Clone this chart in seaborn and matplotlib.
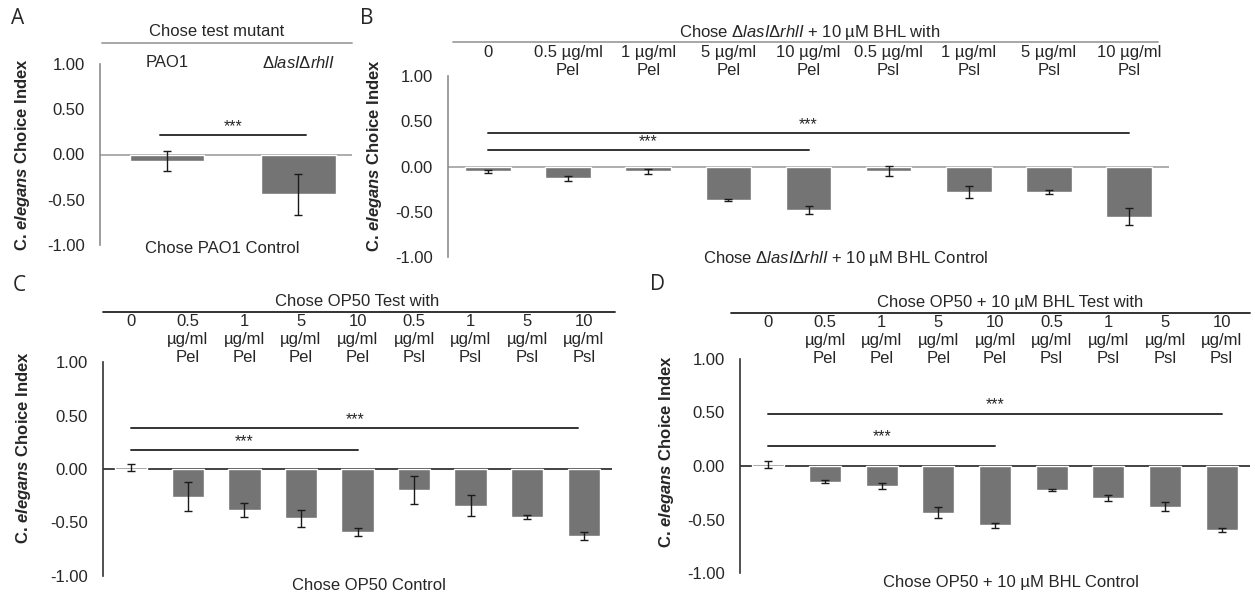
import matplotlib
matplotlib.use("Agg")
import matplotlib.pyplot as plt
import matplotlib.transforms as mtransforms
from matplotlib.lines import Line2D
import seaborn as sns

# Data (choice index means and error bars)
a_labels = ["PAO1", r"Δ$\mathit{lasI}$Δ$\mathit{rhlI}$"]
a_means = [-0.07, -0.44]
a_errs = [0.11, 0.23]

b_labels = ["0", "0.5 µg/ml\nPel", "1 µg/ml\nPel", "5 µg/ml\nPel", "10 µg/ml\nPel",
            "0.5 µg/ml\nPsl", "1 µg/ml\nPsl", "5 µg/ml\nPsl", "10 µg/ml\nPsl"]
b_means = [-0.055, -0.13, -0.055, -0.37, -0.48, -0.05, -0.285, -0.28, -0.555]
b_errs = [0.015, 0.025, 0.03, 0.015, 0.045, 0.06, 0.065, 0.025, 0.095]

c_labels = ["0", "0.5\nµg/ml\nPel", "1\nµg/ml\nPel", "5\nµg/ml\nPel", "10\nµg/ml\nPel",
            "0.5\nµg/ml\nPsl", "1\nµg/ml\nPsl", "5\nµg/ml\nPsl", "10\nµg/ml\nPsl"]
c_means = [0.015, -0.26, -0.38, -0.46, -0.59, -0.197, -0.344, -0.448, -0.626]
c_errs = [0.03, 0.135, 0.065, 0.08, 0.04, 0.128, 0.097, 0.02, 0.036]

d_labels = c_labels
d_means = [0.015, -0.145, -0.19, -0.435, -0.553, -0.224, -0.30, -0.38, -0.596]
d_errs = [0.035, 0.015, 0.027, 0.05, 0.022, 0.01, 0.028, 0.045, 0.017]

# significance brackets: (x start, x end, y)
a_sig = [(-0.05, 1.06, 0.21)]
b_sig = [(0, 8, 0.37), (0, 4, 0.185)]
c_sig = [(0, 7.9, 0.38), (0, 4, 0.18)]
d_sig = [(0, 8, 0.49), (0, 4, 0.19)]

yticks = [-1.0, -0.5, 0.0, 0.5, 1.0]

W, H = 1255, 596
BAR = "#747474"
TXT = "#262626"
FS = 12

sns.set_style("white")
plt.rcParams["font.family"] = ["Liberation Sans", "DejaVu Sans"]
plt.rcParams["mathtext.fontset"] = "custom"
plt.rcParams["mathtext.rm"] = "Liberation Sans"
plt.rcParams["mathtext.it"] = "Liberation Sans:italic"
plt.rcParams["mathtext.bf"] = "Liberation Sans:bold"
plt.rcParams["mathtext.bfit"] = "Liberation Sans:italic:bold"

fig = plt.figure(figsize=(W / 100, H / 100), dpi=100)


def fy(ypix):
    return 1 - ypix / H


def make_axes(left, right, top, bottom):
    return fig.add_axes([left / W, fy(bottom), (right - left) / W, (bottom - top) / H])


def draw_panel(ax, labels, means, errs, sigs, xlim, line_col, spine_col,
               label_top, label_y, label_x=-0.125):
    sns.barplot(x=list(range(len(means))), y=means, color=BAR, saturation=1,
                width=0.57, errorbar=None, ax=ax, native_scale=True)
    ax.errorbar(list(range(len(means))), means, yerr=errs, fmt="none",
                ecolor="#1a1a1a", elinewidth=1, capsize=3, capthick=1)
    ax.axhline(0, color=line_col, lw=1.2, zorder=0.5)
    for x0, x1, y in sigs:
        ax.plot([x0, x1], [y, y], color="#333333", lw=1.4)
        ax.text((x0 + x1) / 2, y + 0.01, "***", ha="center", va="bottom",
                fontsize=11.5, color=TXT)
    ax.set_xlim(*xlim)
    ax.set_ylim(-1, 1)
    ax.set_yticks(yticks)
    ax.set_yticklabels([f"{t:.2f}" for t in yticks], fontsize=FS, color=TXT)
    ax.tick_params(axis="y", length=0, pad=11)
    ax.tick_params(axis="x", bottom=False, labelbottom=False)
    ax.set_xlabel("")
    for s in ["top", "right", "bottom"]:
        ax.spines[s].set_visible(False)
    ax.spines["left"].set_color(spine_col)
    ax.spines["left"].set_linewidth(1.2)
    ax.set_ylabel(r"C. $\mathbfit{elegans}$ Choice Index", fontsize=FS,
                  fontweight="bold", color=TXT)
    ax.yaxis.set_label_coords(label_x, label_y)
    # category labels above the plot
    trans = mtransforms.blended_transform_factory(ax.transData, fig.transFigure)
    for i, lab in enumerate(labels):
        ax.text(i, fy(label_top), lab, transform=trans, ha="center", va="top",
                fontsize=FS, color=TXT, linespacing=1.25)


def header(text, xc, y, x0, x1, ly, col):
    fig.text(xc / W, fy(y), text, ha="center", va="center", fontsize=FS, color=TXT)
    fig.add_artist(Line2D([x0 / W, x1 / W], [fy(ly), fy(ly)], color=col, lw=1.3))


def footer(text, xc, y):
    fig.text(xc / W, fy(y), text, ha="center", va="center", fontsize=FS, color=TXT)


def letter(text, x, y):
    fig.text(x / W, fy(y), text, ha="center", va="center", fontsize=15,
             color=TXT, family=["Open Sans", "DejaVu Sans"])


# Panel A
ax_a = make_axes(100, 352, 64, 245)
draw_panel(ax_a, a_labels, a_means, a_errs, a_sig, (-0.51, 1.41), "#a0a0a0", "#8c8c8c",
           label_top=55, label_y=0.5, label_x=-68 / 252)
header("Chose test mutant", 217, 32, 102, 352, 43, "#a0a0a0")
footer("Chose PAO1 Control", 222, 248)
letter("A", 18, 19)

# Panel B
ax_b = make_axes(448, 1169, 76, 257)
draw_panel(ax_b, b_labels, b_means, b_errs, b_sig, (-0.5, 8.5), "#a0a0a0", "#8c8c8c",
           label_top=45, label_y=0.56, label_x=-64 / 721)
header(r"Chose Δ$\mathit{lasI}$Δ$\mathit{rhlI}$ + 10 µM BHL with", 810, 32, 453, 1158, 42,
       "#a0a0a0")
footer(r"Chose Δ$\mathit{lasI}$Δ$\mathit{rhlI}$ + 10 µM BHL Control", 846, 258)
letter("B", 367, 19)

# Panel C
ax_c = make_axes(103, 612, 362, 576)
draw_panel(ax_c, c_labels, c_means, c_errs, c_sig, (-0.5, 8.5), "#222222", "#333333",
           label_top=314, label_y=0.60, label_x=-70 / 509)
header("Chose OP50 Test with", 357, 302, 103, 615, 312, "#222222")
footer("Chose OP50 Control", 369, 585)
letter("C", 19, 286)

# Panel D
ax_d = make_axes(740, 1250, 359, 573)
draw_panel(ax_d, d_labels, d_means, d_errs, d_sig, (-0.5, 8.5), "#222222", "#333333",
           label_top=315, label_y=0.57, label_x=-64 / 510)
header("Chose OP50 + 10 µM BHL Test with", 1010, 303, 731, 1250, 313, "#222222")
footer("Chose OP50 + 10 µM BHL Control", 1011, 582)
letter("D", 658, 284)

fig.savefig("out.png", dpi=100)
